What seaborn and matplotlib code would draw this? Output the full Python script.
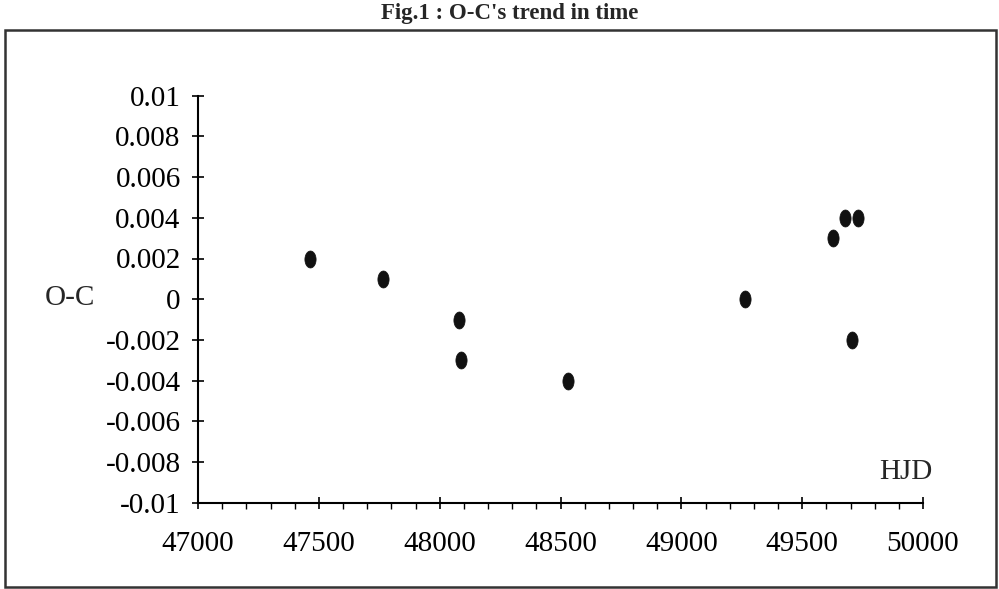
import numpy as np
import pandas as pd
import seaborn as sns
import matplotlib
matplotlib.use("Agg")
import matplotlib.pyplot as plt
from matplotlib.path import Path
from matplotlib.patches import Rectangle
from matplotlib.ticker import MultipleLocator, FixedLocator

# Data
hjd = [47462, 47765, 48081, 48088, 48532, 49263, 49626, 49677, 49730, 49706]
o_c = [0.002, 0.001, -0.001, -0.003, -0.004, 0.0, 0.003, 0.004, 0.004, -0.002]
y_ticks = [-0.01, -0.008, -0.006, -0.004, -0.002, 0, 0.002, 0.004, 0.006, 0.008, 0.01]
y_tick_labels = ["-0.01", "-0.008", "-0.006", "-0.004", "-0.002", "0",
                 "0.002", "0.004", "0.006", "0.008", "0.01"]
x_ticks = [47000, 47500, 48000, 48500, 49000, 49500, 50000]
title = "Fig.1 : O-C's trend in time"

df = pd.DataFrame({"HJD": hjd, "O-C": o_c})

sns.set_style("white")
plt.rcParams["font.family"] = ["Liberation Serif", "DejaVu Serif"]

fig = plt.figure(figsize=(9.99, 5.89), dpi=100)
ax = fig.add_axes([198 / 999, 86.3 / 589, (923 - 198) / 999, (502.7 - 95.7) / 589])

# elliptical marker (taller than wide)
t = np.linspace(0, 2 * np.pi, 40)
ell = Path(np.column_stack([0.66 * np.cos(t), np.sin(t)]), closed=True)

sns.scatterplot(data=df, x="HJD", y="O-C", ax=ax, marker=ell, s=150,
                color="#111111", edgecolor="#111111", linewidth=0.5)

ax.set_xlim(47000, 50000)
ax.set_ylim(-0.01, 0.01)
ax.xaxis.set_major_locator(FixedLocator(x_ticks))
ax.xaxis.set_minor_locator(MultipleLocator(100))
ax.set_yticks(y_ticks)
ax.set_yticklabels(y_tick_labels)
ax.set_xticklabels([str(v) for v in x_ticks])

for s in ["top", "right"]:
    ax.spines[s].set_visible(False)
for s in ["left", "bottom"]:
    ax.spines[s].set_color("black")
    ax.spines[s].set_linewidth(1.5)

ax.tick_params(axis="y", which="major", direction="inout", length=9, width=1.2,
               labelsize=21, pad=8, left=True, colors="black")
ax.tick_params(axis="x", which="major", direction="inout", length=9, width=1.2,
               labelsize=21, pad=16, bottom=True, colors="black")
ax.tick_params(axis="x", which="minor", direction="out", length=4, width=1.0,
               bottom=True, colors="black")

ax.set_xlabel("")
ax.set_ylabel("")
fig.text(70 / 999, 1 - 298 / 589, "O-C", fontsize=21, ha="center", va="center")
fig.text(906 / 999, 1 - 472 / 589, "HJD", fontsize=21, ha="center", va="center")

fig.text(0.51, 1 - 14 / 589, title, fontsize=16.5, fontweight="bold",
         ha="center", va="center")

fig.patches.append(Rectangle((5 / 999, 1 - 587 / 589), 991 / 999, (587 - 30) / 589,
                             transform=fig.transFigure, fill=False,
                             edgecolor="#333333", linewidth=1.8))

fig.savefig("out.png", dpi=100)
